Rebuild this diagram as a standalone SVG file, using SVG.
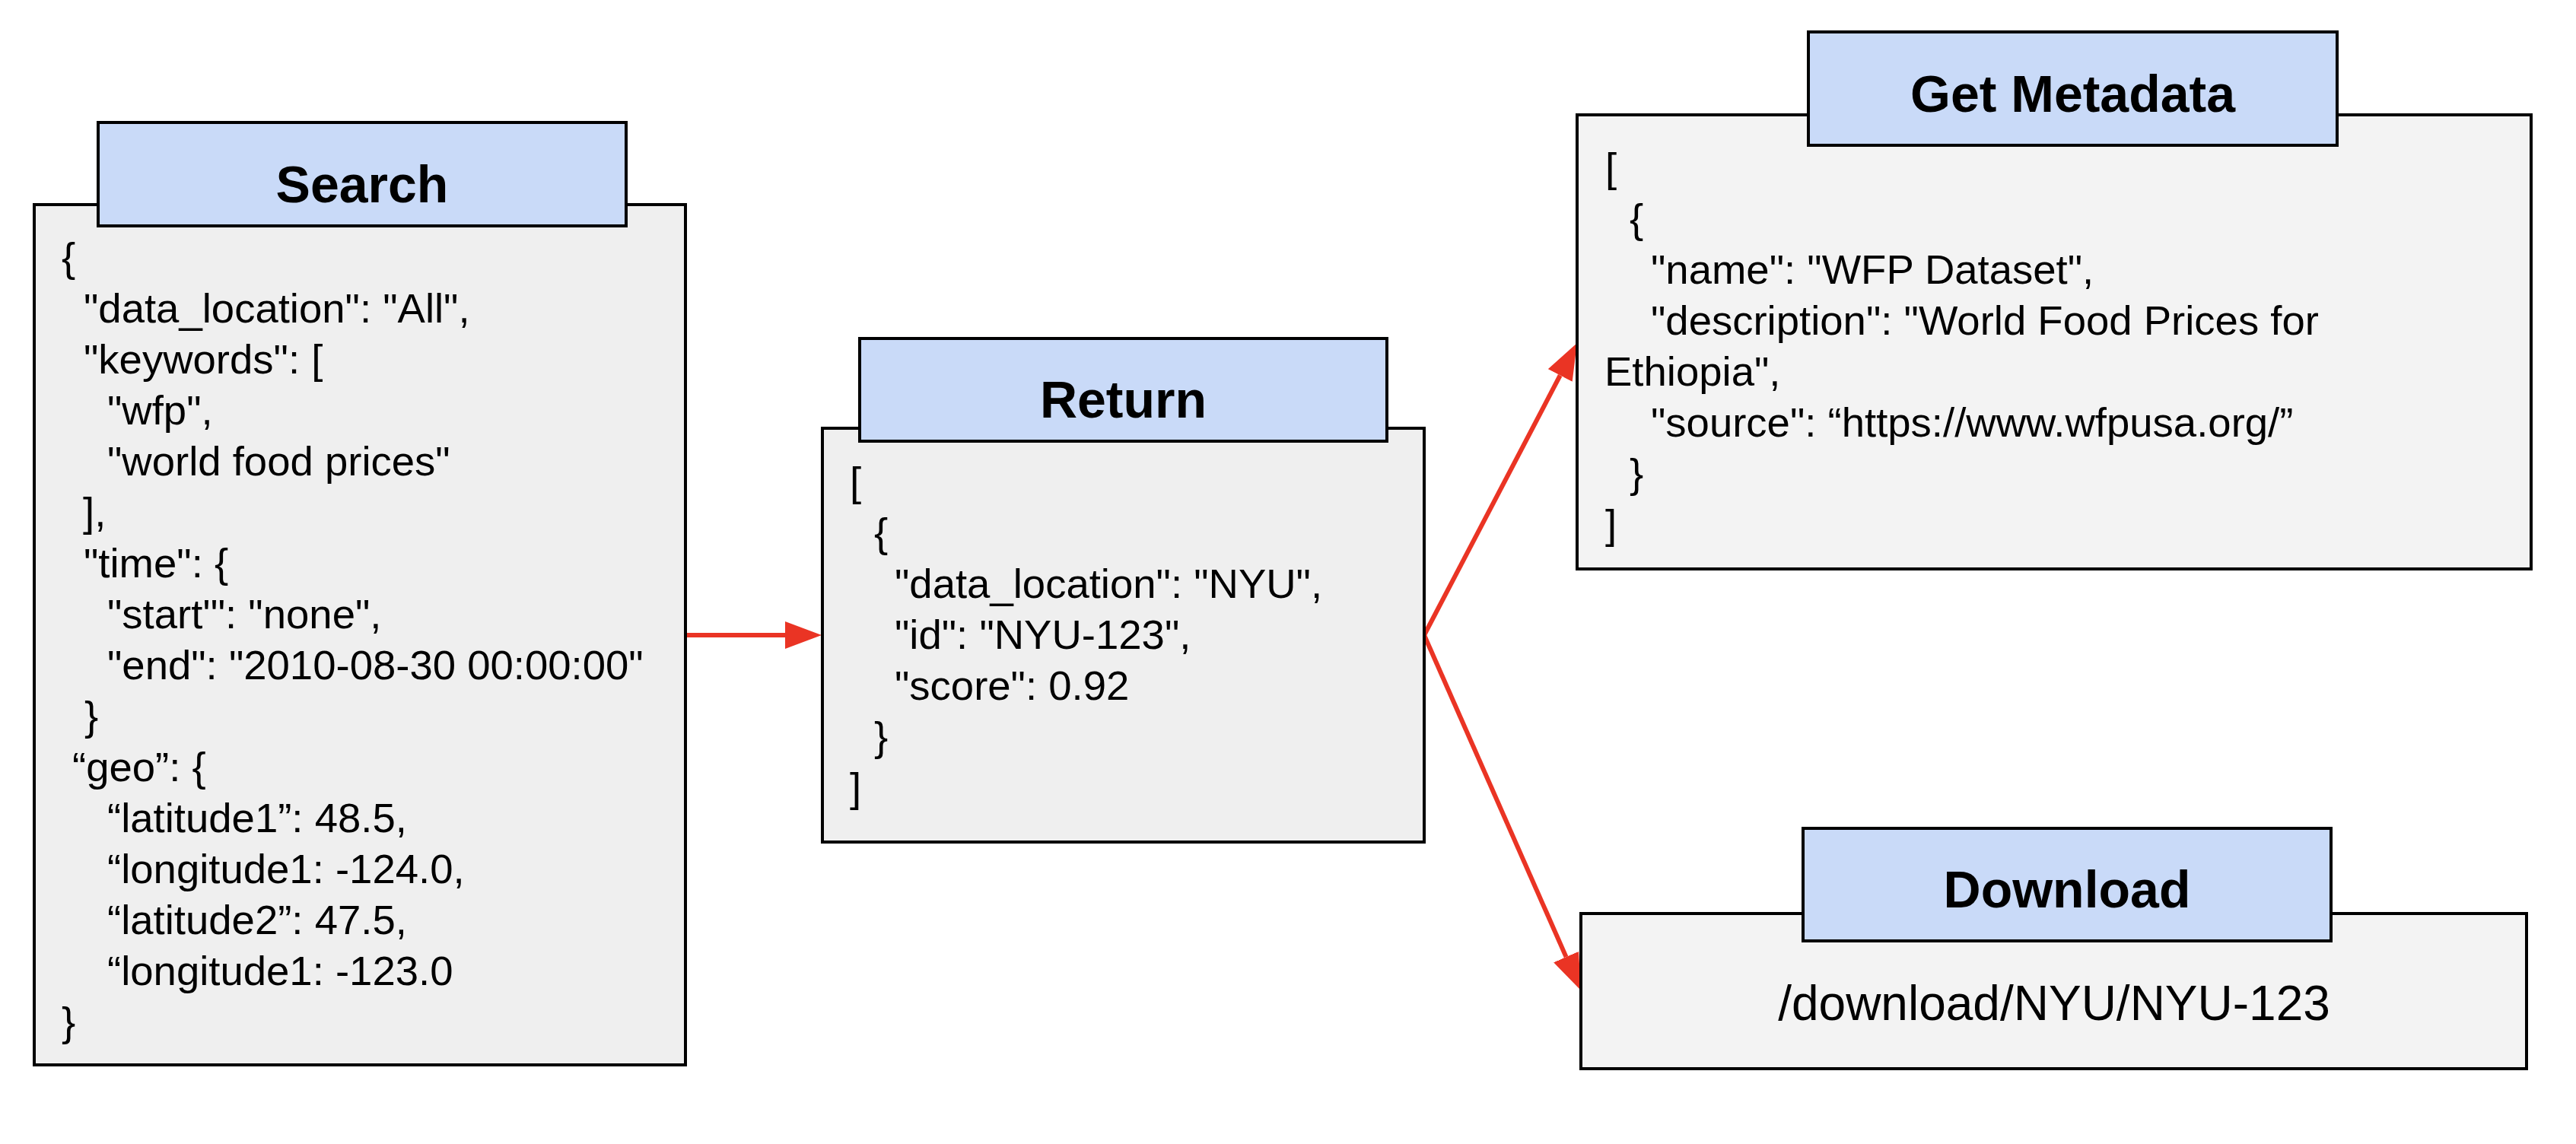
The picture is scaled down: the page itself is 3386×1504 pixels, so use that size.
<svg xmlns="http://www.w3.org/2000/svg" width="3386" height="1504" viewBox="0 0 3386 1504">
<style>
.body1{fill:#efefef;stroke:#000;stroke-width:4}
.body2{fill:#f3f3f3;stroke:#000;stroke-width:4}
.head{fill:#c9daf8;stroke:#000;stroke-width:4}
.title{font-family:"Liberation Sans",Arial,sans-serif;font-weight:bold;font-size:68px;fill:#000;text-anchor:middle}
.txt{font-family:"Liberation Sans",Arial,sans-serif;font-size:54.5px;fill:#000}
.conn{fill:none;stroke:#ea3424;stroke-width:6}
</style>
<defs>
<marker id="ah" markerUnits="userSpaceOnUse" markerWidth="48" markerHeight="36" refX="0" refY="18" orient="auto">
<path d="M0,0 L48,18 L0,36 z" fill="#ea3424"/>
</marker>
</defs>
<rect width="3386" height="1504" fill="#fff"/>
<g id="connectors">
<path class="conn" d="M902,835 L1032,835" marker-end="url(#ah)"/>
<path class="conn" d="M1872,835 L2050.7,493.5" marker-end="url(#ah)"/>
<path class="conn" d="M1872,835 L2058.6,1258.1" marker-end="url(#ah)"/>
</g>
<g id="search">
<rect class="body1" x="45" y="269" width="856" height="1131"/>
<rect class="head" x="129" y="161" width="694" height="136"/>
<text class="title" x="476" y="266">Search</text>
<text class="txt">
<tspan x="81" y="357">{</tspan>
<tspan x="110" y="424">"data_location": "All",</tspan>
<tspan x="110" y="491">"keywords": [</tspan>
<tspan x="141" y="558">"wfp",</tspan>
<tspan x="141" y="625">"world food prices"</tspan>
<tspan x="109" y="692">],</tspan>
<tspan x="110" y="759">"time": {</tspan>
<tspan x="141" y="826">"start'": "none",</tspan>
<tspan x="141" y="893">"end": "2010-08-30 00:00:00"</tspan>
<tspan x="111" y="960">}</tspan>
<tspan x="95" y="1027">“geo”: {</tspan>
<tspan x="141" y="1094">“latitude1”: 48.5,</tspan>
<tspan x="141" y="1161">“longitude1: -124.0,</tspan>
<tspan x="141" y="1228">“latitude2”: 47.5,</tspan>
<tspan x="141" y="1295">“longitude1: -123.0</tspan>
<tspan x="81" y="1362">}</tspan>
</text>
</g>
<g id="return">
<rect class="body1" x="1081" y="563" width="791" height="544"/>
<rect class="head" x="1130" y="445" width="693" height="135"/>
<text class="title" x="1476.5" y="549">Return</text>
<text class="txt">
<tspan x="1117" y="652">[</tspan>
<tspan x="1149" y="719">{</tspan>
<tspan x="1176" y="786">"data_location": "NYU",</tspan>
<tspan x="1176" y="853">"id": "NYU-123",</tspan>
<tspan x="1176" y="920">"score": 0.92</tspan>
<tspan x="1149" y="987">}</tspan>
<tspan x="1117" y="1054">]</tspan>
</text>
</g>
<g id="get-metadata">
<rect class="body2" x="2073" y="151" width="1254" height="597"/>
<rect class="head" x="2377" y="42" width="695" height="149"/>
<text class="title" x="2724.5" y="147">Get Metadata</text>
<text class="txt">
<tspan x="2110" y="239">[</tspan>
<tspan x="2142" y="306">{</tspan>
<tspan x="2170" y="373">"name": "WFP Dataset",</tspan>
<tspan x="2170" y="440">"description": "World Food Prices for</tspan>
<tspan x="2109" y="507">Ethiopia",</tspan>
<tspan x="2170" y="574">"source": “https://www.wfpusa.org/”</tspan>
<tspan x="2142" y="641">}</tspan>
<tspan x="2110" y="708">]</tspan>
</text>
</g>
<g id="download">
<rect class="body2" x="2078" y="1201" width="1243" height="204"/>
<rect class="head" x="2370" y="1089" width="694" height="148"/>
<text class="title" x="2717" y="1193">Download</text>
<text class="txt" x="2700" y="1341" text-anchor="middle" style="font-size:64px">/download/NYU/NYU-123</text>
</g>
</svg>
